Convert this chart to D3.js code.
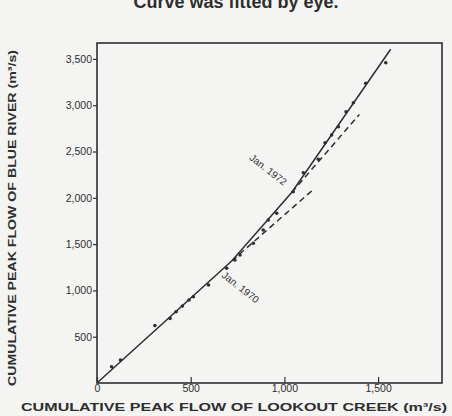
<!DOCTYPE html>
<html>
<head>
<meta charset="utf-8">
<script src="https://cdn.jsdelivr.net/npm/d3@7"></script>
<style>
  body { margin: 0; background: #f4f4f2; }
  svg { display: block; font-family: "Liberation Sans", Arial, sans-serif; }
</style>
</head>
<body>
<div id="chart"></div>
<script>
// observed cumulative peak flows (Lookout Creek x, Blue River y), m3/s
const lookout = [78, 125, 309, 390, 422, 456, 491, 514, 595, 692, 736, 763, 834, 887, 914, 959,
                 1047, 1101, 1181, 1217, 1252, 1288, 1329, 1368, 1434, 1541];
const blue = [176, 248, 621, 697, 770, 832, 896, 932, 1058, 1239, 1328, 1382, 1509, 1652, 1760, 1833,
              2066, 2271, 2416, 2595, 2678, 2768, 2930, 3027, 3237, 3459];

// curve fitted by eye (breaks at Jan 1970 and Jan 1972)
const curveX = [0, 720, 1040, 1567];
const curveY = [0, 1320, 2060, 3604];

// dashed extensions of the earlier segments
const dash1970X = [720, 1146];
const dash1970Y = [1320, 2075];
const dash1972X = [1040, 1400];
const dash1972Y = [2060, 2900];

const xTicks = [0, 500, 1000, 1500];
const yTicks = [500, 1000, 1500, 2000, 2500, 3000, 3500];

const width = 452, height = 416;
const margin = { top: 43, right: 10, bottom: 33, left: 97 };
const ink = '#2e2e2e';

const svg = d3.select('#chart')
    .append('svg')
    .attr('width', width)
    .attr('height', height);

const x = d3.scaleLinear()
    .domain([0, 1841])
    .range([margin.left, width - margin.right]);

const y = d3.scaleLinear()
    .domain([0, 3672])
    .range([height - margin.bottom, margin.top]);

// title, cut off at the top of the page
svg.append('text')
    .attr('x', 236)
    .attr('y', 8)
    .attr('text-anchor', 'middle')
    .attr('fill', ink)
    .style('font-size', '18px')
    .style('font-weight', 'bold')
    .text('Curve was fitted by eye.');

// frame
svg.append('rect')
    .attr('x', x(0))
    .attr('y', y(3672))
    .attr('width', x(1841) - x(0))
    .attr('height', y(0) - y(3672))
    .attr('fill', 'none')
    .attr('stroke', ink)
    .attr('stroke-width', 1.6);

// x axis: ticks point up into the plot
const xAxis = svg.append('g')
    .attr('transform', `translate(0,${y(0)})`)
    .call(d3.axisBottom(x).tickValues(xTicks).tickSizeInner(-6).tickSizeOuter(0)
        .tickPadding(2).tickFormat(d3.format(',')));
xAxis.select('.domain').remove();
xAxis.selectAll('line').attr('stroke', ink).attr('stroke-width', 1.2);
xAxis.selectAll('text').attr('fill', ink).style('font-size', '10.5px');

// y axis: ticks point outward
const yAxis = svg.append('g')
    .attr('transform', `translate(${x(0)},0)`)
    .call(d3.axisLeft(y).tickValues(yTicks).tickSizeInner(4).tickSizeOuter(0)
        .tickPadding(1).tickFormat(d3.format(',')));
yAxis.select('.domain').remove();
yAxis.selectAll('line').attr('stroke', ink).attr('stroke-width', 1.2);
yAxis.selectAll('text').attr('fill', ink).style('font-size', '10.5px');

// axis titles
svg.append('text')
    .attr('x', 234)
    .attr('y', 411)
    .attr('text-anchor', 'middle')
    .attr('fill', ink)
    .attr('textLength', 426)
    .attr('lengthAdjust', 'spacingAndGlyphs')
    .style('font-size', '11.5px')
    .style('font-weight', 'bold')
    .text('CUMULATIVE PEAK FLOW OF LOOKOUT CREEK (m³/s)');

svg.append('text')
    .attr('transform', 'translate(16,218) rotate(-90)')
    .attr('text-anchor', 'middle')
    .attr('fill', ink)
    .attr('textLength', 336)
    .attr('lengthAdjust', 'spacingAndGlyphs')
    .style('font-size', '10.5px')
    .style('font-weight', 'bold')
    .text('CUMULATIVE PEAK FLOW OF BLUE RIVER (m³/s)');

const line = d3.line()
    .x(d => x(d[0]))
    .y(d => y(d[1]));

// dashed extensions
[[dash1970X, dash1970Y], [dash1972X, dash1972Y]].forEach(([dx, dy]) => {
    svg.append('path')
        .datum(d3.zip(dx, dy))
        .attr('d', line)
        .attr('fill', 'none')
        .attr('stroke', ink)
        .attr('stroke-width', 1.5)
        .attr('stroke-dasharray', '6,4');
});

// fitted curve
svg.append('path')
    .datum(d3.zip(curveX, curveY))
    .attr('d', line)
    .attr('fill', 'none')
    .attr('stroke', ink)
    .attr('stroke-width', 1.5);

// data points
svg.selectAll('.pt')
    .data(d3.zip(lookout, blue))
    .enter()
    .append('circle')
    .attr('class', 'pt')
    .attr('cx', d => x(d[0]))
    .attr('cy', d => y(d[1]))
    .attr('r', 1.8)
    .attr('fill', ink);

// date labels along the curve
function dateLabel(text, px, py) {
    svg.append('text')
        .attr('transform', `translate(${px},${py}) rotate(38)`)
        .attr('fill', ink)
        .style('font-size', '10px')
        .text(text);
}
dateLabel('Jan. 1970', x(662), y(1150));
dateLabel('Jan. 1972', x(810), y(2420));
</script>
</body>
</html>
